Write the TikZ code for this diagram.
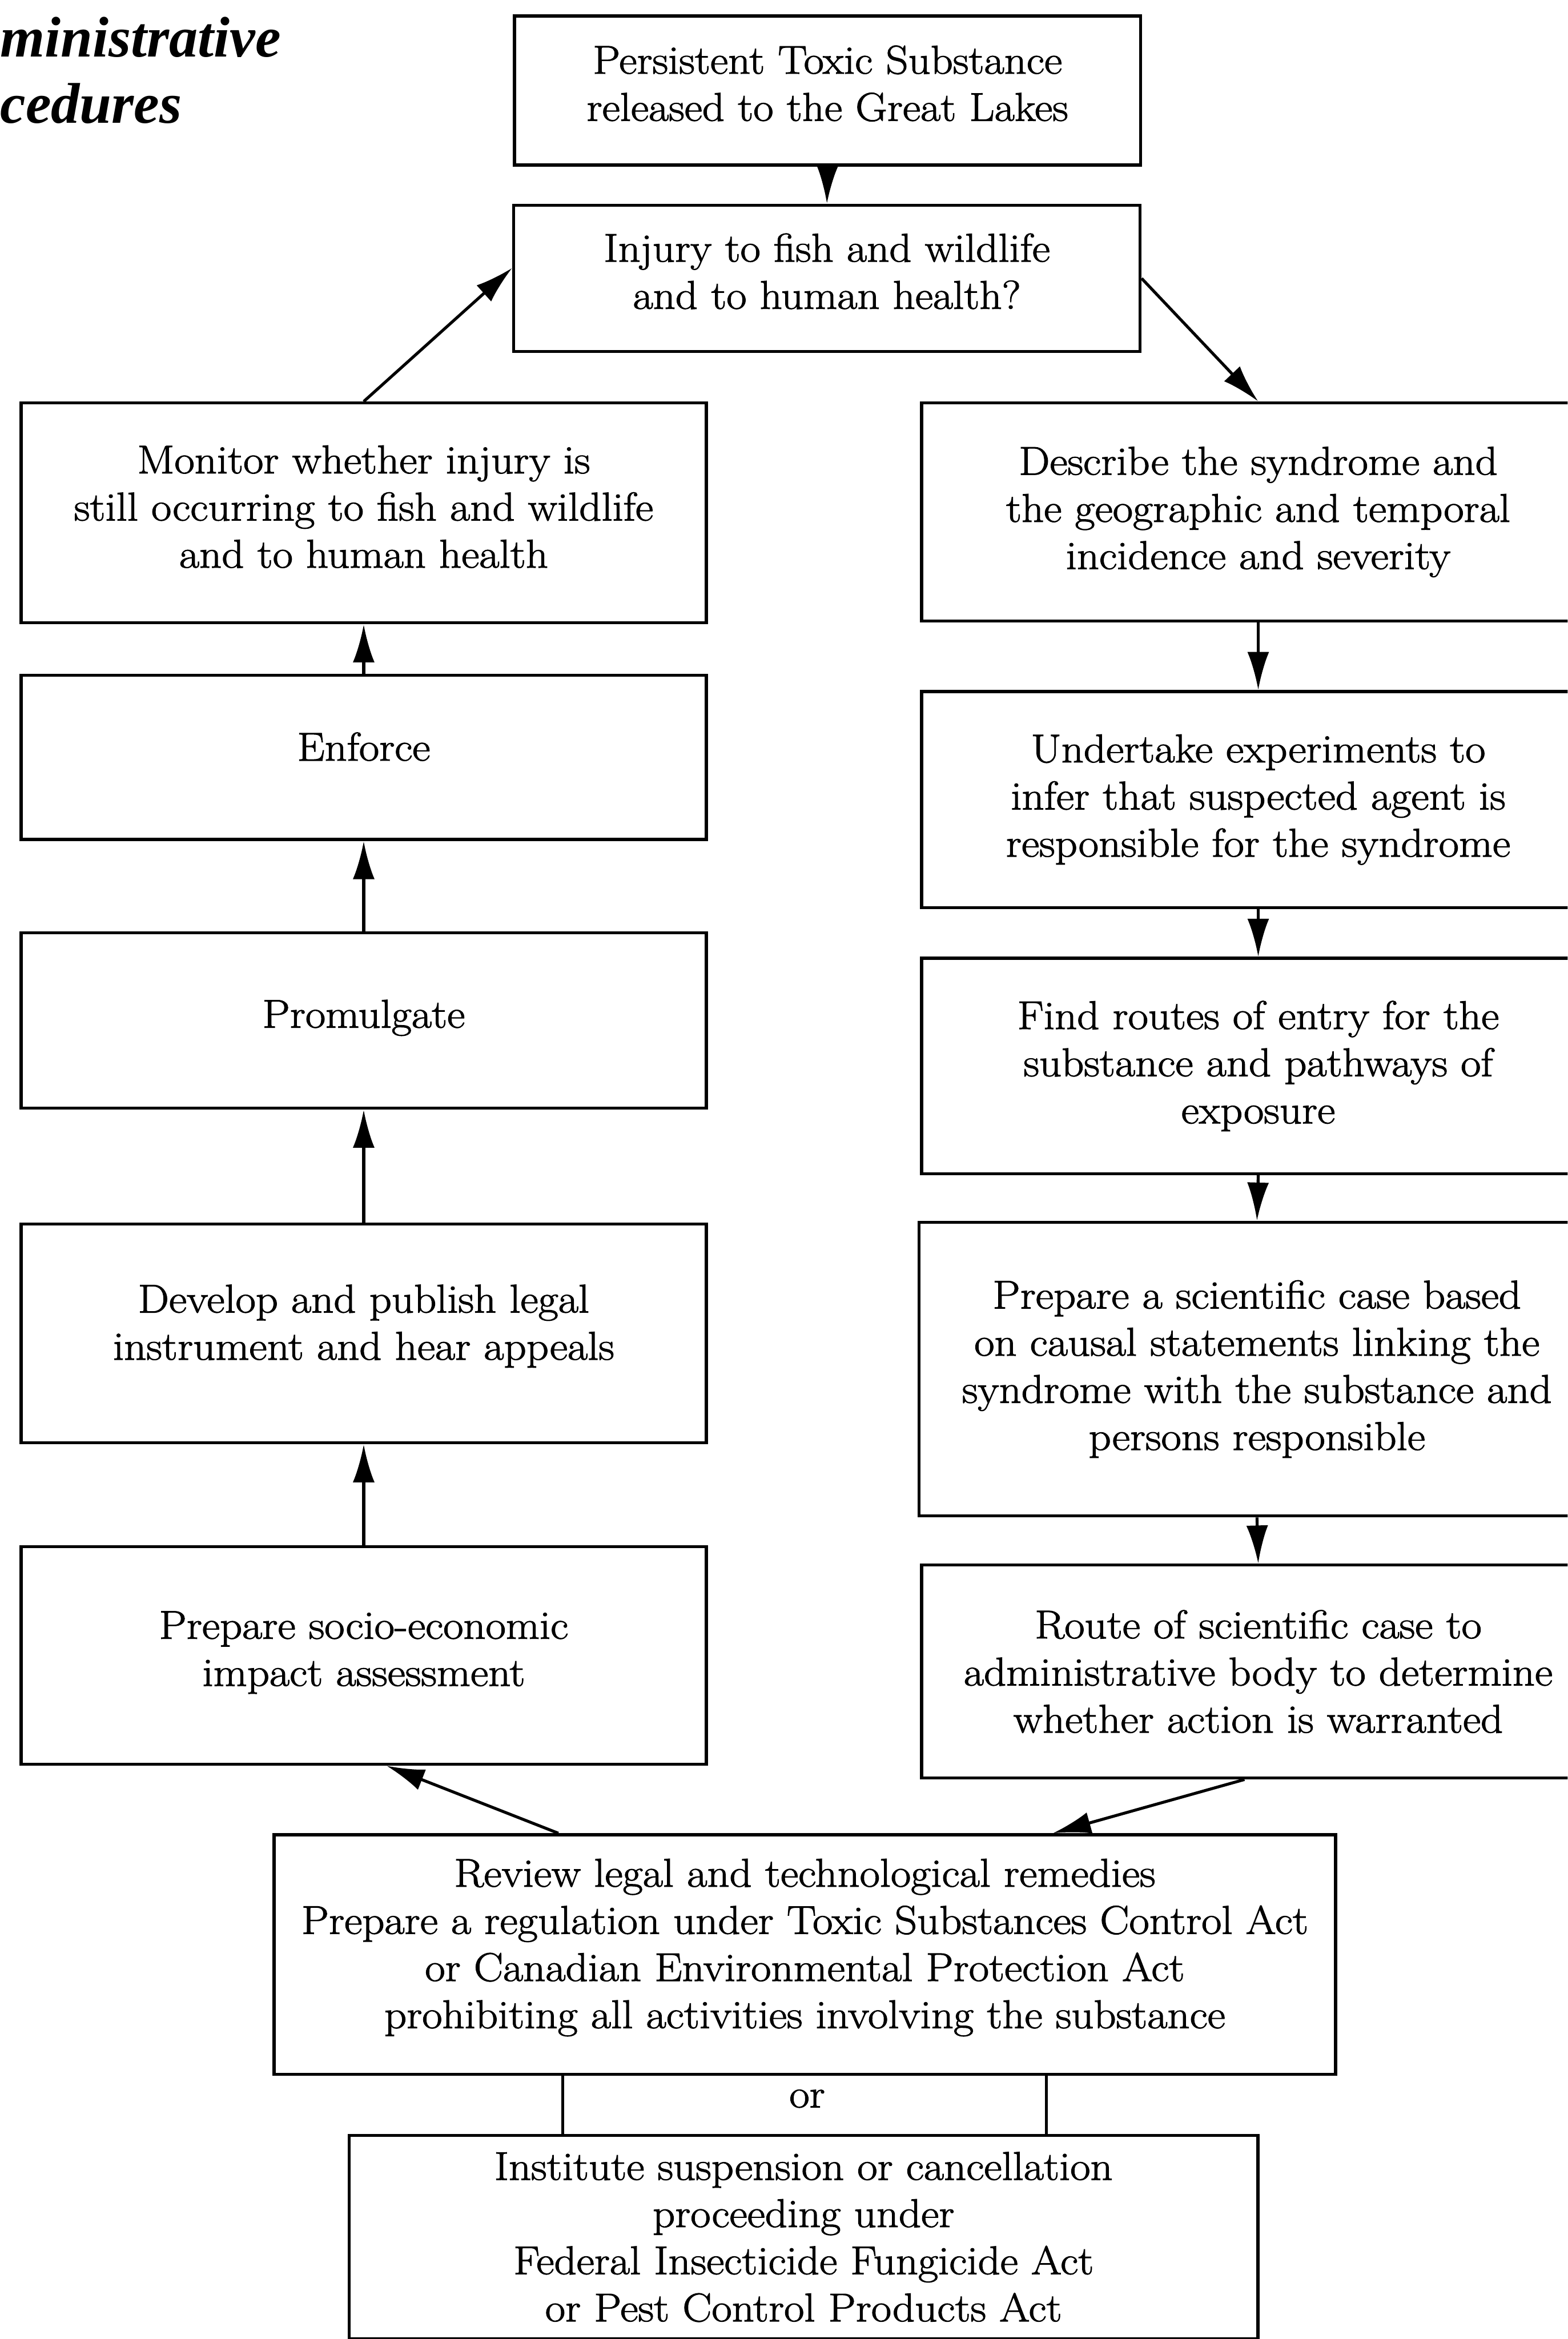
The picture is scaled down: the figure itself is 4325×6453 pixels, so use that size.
\documentclass[tikz,border=0pt]{standalone}
\usepackage{fontspec}
\newfontfamily\titlefont{Liberation Serif}
\newfontfamily\boxfont{Latin Modern Roman}[FakeStretch=1.09, FakeBold=1.6]
\usetikzlibrary{arrows.meta,calc}
\begin{document}
\begin{tikzpicture}[x=0.01cm, y=-0.01cm,
  box/.style={draw, line width=2.4pt, inner sep=0pt, align=center,
    font=\boxfont\fontsize{31.5}{37}\selectfont},
  conn/.style={line width=2.3pt, -{Latex[length=1.05cm,width=0.6cm]}},
  plainline/.style={line width=2.3pt},
  titletext/.style={anchor=base west, inner sep=0pt,
    font=\titlefont\bfseries\itshape\fontsize{45}{50}\selectfont},
  ortext/.style={inner sep=0pt, font=\boxfont\fontsize{31.5}{37}\selectfont}]
\clip (0,0) rectangle (4325,6453);
\fill[white] (0,0) rectangle (4325,6453);

% title (cropped)
\node[titletext] (t1) at (0,156) {ministrative};
\node[titletext] (t2) at (0,340) {cedures};

% top column
\node[box, text depth=0.4cm, minimum width=17.26cm, minimum height=4.11cm] (top) at (2283,249.5)
  {Persistent Toxic Substance\\released to the Great Lakes};
\node[box, text depth=0.4cm, minimum width=17.27cm, minimum height=4.04cm] (injury) at (2281.5,768)
  {Injury to fish and wildlife\\and to human health?};

% left column
\node[box, text depth=0.35cm, minimum width=18.89cm, minimum height=6.06cm] (monitor) at (1003.5,1415)
  {Monitor whether injury is\\still occurring to fish and wildlife\\and to human health};
\node[box, text depth=0.6cm, minimum width=18.89cm, minimum height=4.53cm] (enforce) at (1003.5,2089.5)
  {Enforce};
\node[box, text depth=0.375cm, minimum width=18.89cm, minimum height=4.83cm] (promulgate) at (1003.5,2815.5)
  {Promulgate};
\node[box, text depth=0.615cm, minimum width=18.89cm, minimum height=6.03cm] (develop) at (1003.5,3678.5)
  {Develop and publish legal\\instrument and hear appeals};
\node[box, text depth=0.375cm, minimum width=18.89cm, minimum height=6.00cm] (socio) at (1003.5,4567)
  {Prepare socio-economic\\impact assessment};

% right column
\node[box, minimum width=18.57cm, minimum height=6.01cm] (describe) at (3471.5,1412.5)
  {Describe the syndrome and\\the geographic and temporal\\incidence and severity};
\node[box, minimum width=18.57cm, minimum height=5.96cm] (undertake) at (3471.5,2206)
  {Undertake experiments to\\infer that suspected agent is\\responsible for the syndrome};
\node[box, minimum width=18.57cm, minimum height=5.94cm] (find) at (3471.5,2941)
  {Find routes of entry for the\\substance and pathways of\\exposure};
\node[box, minimum width=18.64cm, minimum height=8.10cm] (sci) at (3468,3777)
  {Prepare a scientific case based\\on causal statements linking the\\syndrome with the substance and\\persons responsible};
\node[box, minimum width=18.57cm, minimum height=5.87cm] (route) at (3471.5,4611.5)
  {Route of scientific case to\\administrative body to determine\\whether action is warranted};

% bottom
\node[box, text depth=0.615cm, minimum width=29.27cm, minimum height=6.61cm] (review) at (2220.5,5392.5)
  {Review legal and technological remedies\\Prepare a regulation under Toxic Substances Control Act\\or Canadian Environmental Protection Act\\prohibiting all activities involving the substance};
\node[box, minimum width=25.06cm, minimum height=5.61cm] (institute) at (2217,6171.5)
  {Institute suspension or cancellation\\proceeding under\\Federal Insecticide Fungicide Act\\or Pest Control Products Act};
\node[ortext] (or) at (2227,5790) {or};

% connectors
\draw[conn] (top.south) -- (injury.north);
\draw[conn] (injury.east) -- (describe.north);
\draw[conn] (monitor.north) -- ($(injury.north west)!0.43!(injury.south west)$);
\draw[conn] (enforce.north) -- (monitor.south);
\draw[conn] (promulgate.north) -- (enforce.south);
\draw[conn] (develop.north) -- (promulgate.south);
\draw[conn] (socio.north) -- (develop.south);
\draw[conn] (describe.south) -- (undertake.north);
\draw[conn] (undertake.south) -- (find.north);
\draw[conn] (find.south) -- (sci.north);
\draw[conn] (sci.south) -- (route.north);
\draw[conn] ($(route.south)+(-38,0)$) -- ($(review.north west)!0.733!(review.north east)$);
\draw[conn] ($(review.north west)!0.2685!(review.north east)$) -- ($(socio.south west)!0.533!(socio.south east)$);
\coordinate (orl) at ($(review.south west)!0.2725!(review.south east)$);
\coordinate (orr) at ($(review.south west)!0.727!(review.south east)$);
\draw[plainline] (orl) -- (orl |- institute.north);
\draw[plainline] (orr) -- (orr |- institute.north);
\end{tikzpicture}
\end{document}
